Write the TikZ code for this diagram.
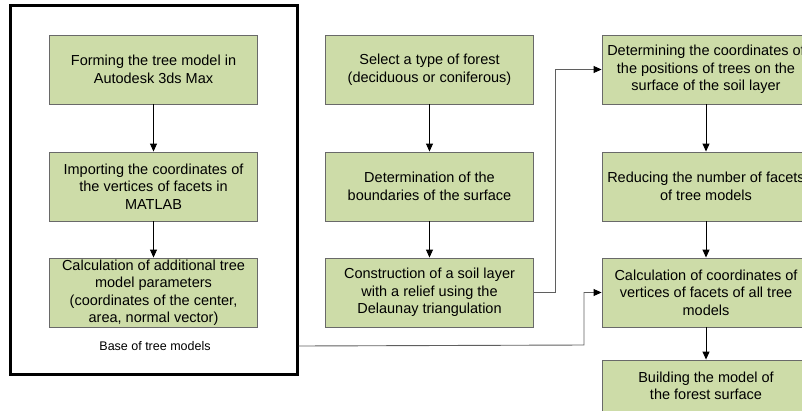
\documentclass[tikz,border=0pt]{standalone}
\usepackage{fontspec}
\setmainfont{Liberation Sans}
\usetikzlibrary{arrows.meta,positioning}
\definecolor{boxgreen}{RGB}{205,220,168}
\definecolor{boxline}{RGB}{105,105,105}
\definecolor{linkgray}{RGB}{95,95,95}

\begin{document}
\begin{tikzpicture}[x=1pt, y=-1pt,
    block/.style={rectangle, draw=boxline, fill=boxgreen, line width=0.9pt, minimum width=208pt, minimum height=69pt, align=center, inner sep=0pt, font=\fontsize{14.5}{17.5}\selectfont},
    flow/.style={-{Triangle[length=8pt,width=7pt]}, line width=0.9pt},
    link/.style={-{Triangle[length=8pt,width=7pt,color=black]}, draw=linkgray, line width=0.9pt}]
    \clip (0,0) rectangle (802,410);

    % Base of tree models
    \node[draw, line width=3pt, minimum width=287pt, minimum height=369pt] (base) at (153.5,189.5) {};
    \node[block] (B1) at (153.5,69.5) {Forming the tree model in\\Autodesk 3ds Max};
    \node[block] (B2) at (153.5,186.5) {Importing the coordinates of\\the vertices of facets in\\MATLAB};
    \node[block] (B3) at (153.5,292.5) {Calculation of additional tree\\model parameters\\(coordinates of the center,\\area, normal vector)};
    \node[font=\fontsize{12.5}{15}\selectfont] (lbl) at (155,346) {Base of tree models};

    % Soil layer
    \node[block] (M1) at (429.5,69.5) {Select a type of forest\\(deciduous or coniferous)};
    \node[block] (M2) at (429.5,186.5) {Determination of the\\boundaries of the surface};
    \node[block] (M3) at (429.5,292.5) {Construction of a soil layer\\with a relief using the\\Delaunay triangulation};

    % Forest surface
    \node[block] (R1) at (706,69.5) {Determining the coordinates of\\the positions of trees on the\\surface of the soil layer};
    \node[block] (R2) at (706,186.5) {Reducing the number of facets\\of tree models};
    \node[block] (R3) at (706,292.5) {Calculation of coordinates of\\vertices of facets of all tree\\models};
    \node[block, minimum height=52pt] (R4) at (706,386) {Building the model of\\the forest surface};

    % Connections
    \foreach \a/\b in {B1/B2,B2/B3,M1/M2,M2/M3,R1/R2,R2/R3,R3/R4}
        \draw[flow] (\a) -- (\b);

    \coordinate (k1) at (555,292.5);
    \draw[link] (M3.east) -- (k1) |- (R1.west);
    \coordinate (k2) at (584,345);
    \draw[link] (lbl -| base.east) -- (k2) |- (R3.west);
\end{tikzpicture}
\end{document}
